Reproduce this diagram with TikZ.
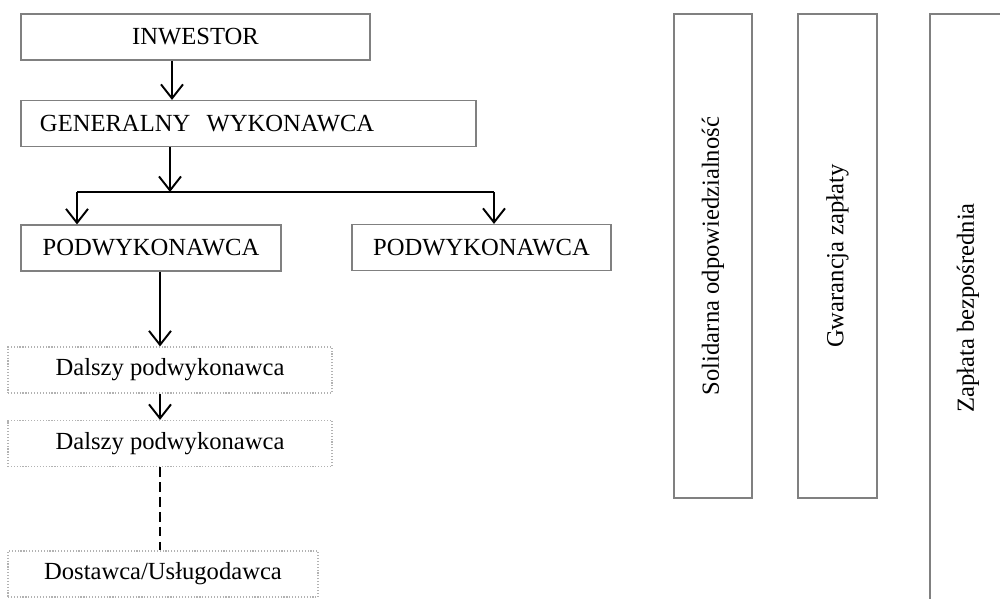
\documentclass[tikz,border=0pt]{standalone}
\usepackage{fontspec}
\setmainfont{Liberation Serif}
\usepackage{tikz}
\usetikzlibrary{arrows.meta}

\begin{document}
\begin{tikzpicture}[
  every node/.style={align=center, font=\fontsize{14pt}{17pt}\selectfont},
  box/.style={draw=black!50, line width=0.65pt, minimum height=0.92cm, inner sep=0pt},
  subbox/.style={draw=black!30, densely dotted, line width=0.65pt, minimum height=0.92cm, inner sep=0pt},
  arr/.style={-{Straight Barb[length=2.8mm, width=4.4mm]}, line width=1.1pt}
]
\useasboundingbox (0,0) rectangle (20,-11.98);
% lewa strona - lancuch wykonawcow
\node[box, minimum width=6.98cm] (inw) at (3.91,-0.74) {INWESTOR};
\node[box, minimum width=9.1cm, text width=8.34cm, inner xsep=0.38cm, align=left] (gw) at (4.97,-2.47) {GENERALNY~~WYKONAWCA};
\node[box, minimum width=5.2cm] (podl) at (3.02,-4.96) {PODWYKONAWCA};
\node[box, minimum width=5.18cm] (podr) at (9.63,-4.95) {PODWYKONAWCA};
\node[subbox, minimum width=6.48cm] (dal1) at (3.4,-7.4) {Dalszy podwykonawca};
\node[subbox, minimum width=6.48cm] (dal2) at (3.4,-8.87) {Dalszy podwykonawca};
\node[subbox, minimum width=6.2cm] (dost) at (3.26,-11.48) {Dostawca/Usługodawca};
% prawa strona - pionowe pola
\node[box, rotate=90, minimum width=9.68cm, minimum height=1.56cm] (sol) at (14.26,-5.12) {Solidarna odpowiedzialność};
\node[box, rotate=90, minimum width=9.68cm, minimum height=1.58cm] (gwa) at (16.75,-5.12) {Gwarancja zapłaty};
\node[box, rotate=90, minimum width=11.76cm, minimum height=1.52cm] (zap) at (19.36,-6.16) {Zapłata bezpośrednia};

\coordinate (split) at (3.4,-3.84);
\coordinate (bl) at (1.54,-3.84);
\coordinate (br) at (9.88,-3.84);
\coordinate (mid) at (3.2,0);
\draw[arr] (inw.south -| 3.44,0) -- (gw.north -| 3.44,0);
\draw[arr] (gw.south -| split) -- (split);
\draw[line width=1.1pt] (bl) -- (br);
\draw[arr] (bl) -- (bl |- podl.north);
\draw[arr] (br) -- (br |- podr.north);
\draw[arr] (podl.south -| mid) -- (dal1.north -| mid);
\draw[arr] (dal1.south -| mid) -- (dal2.north -| mid);
\draw[dash pattern=on 5.5pt off 3pt, line width=1.1pt] (dal2.south -| mid) -- (dost.north -| mid);
\end{tikzpicture}
\end{document}
